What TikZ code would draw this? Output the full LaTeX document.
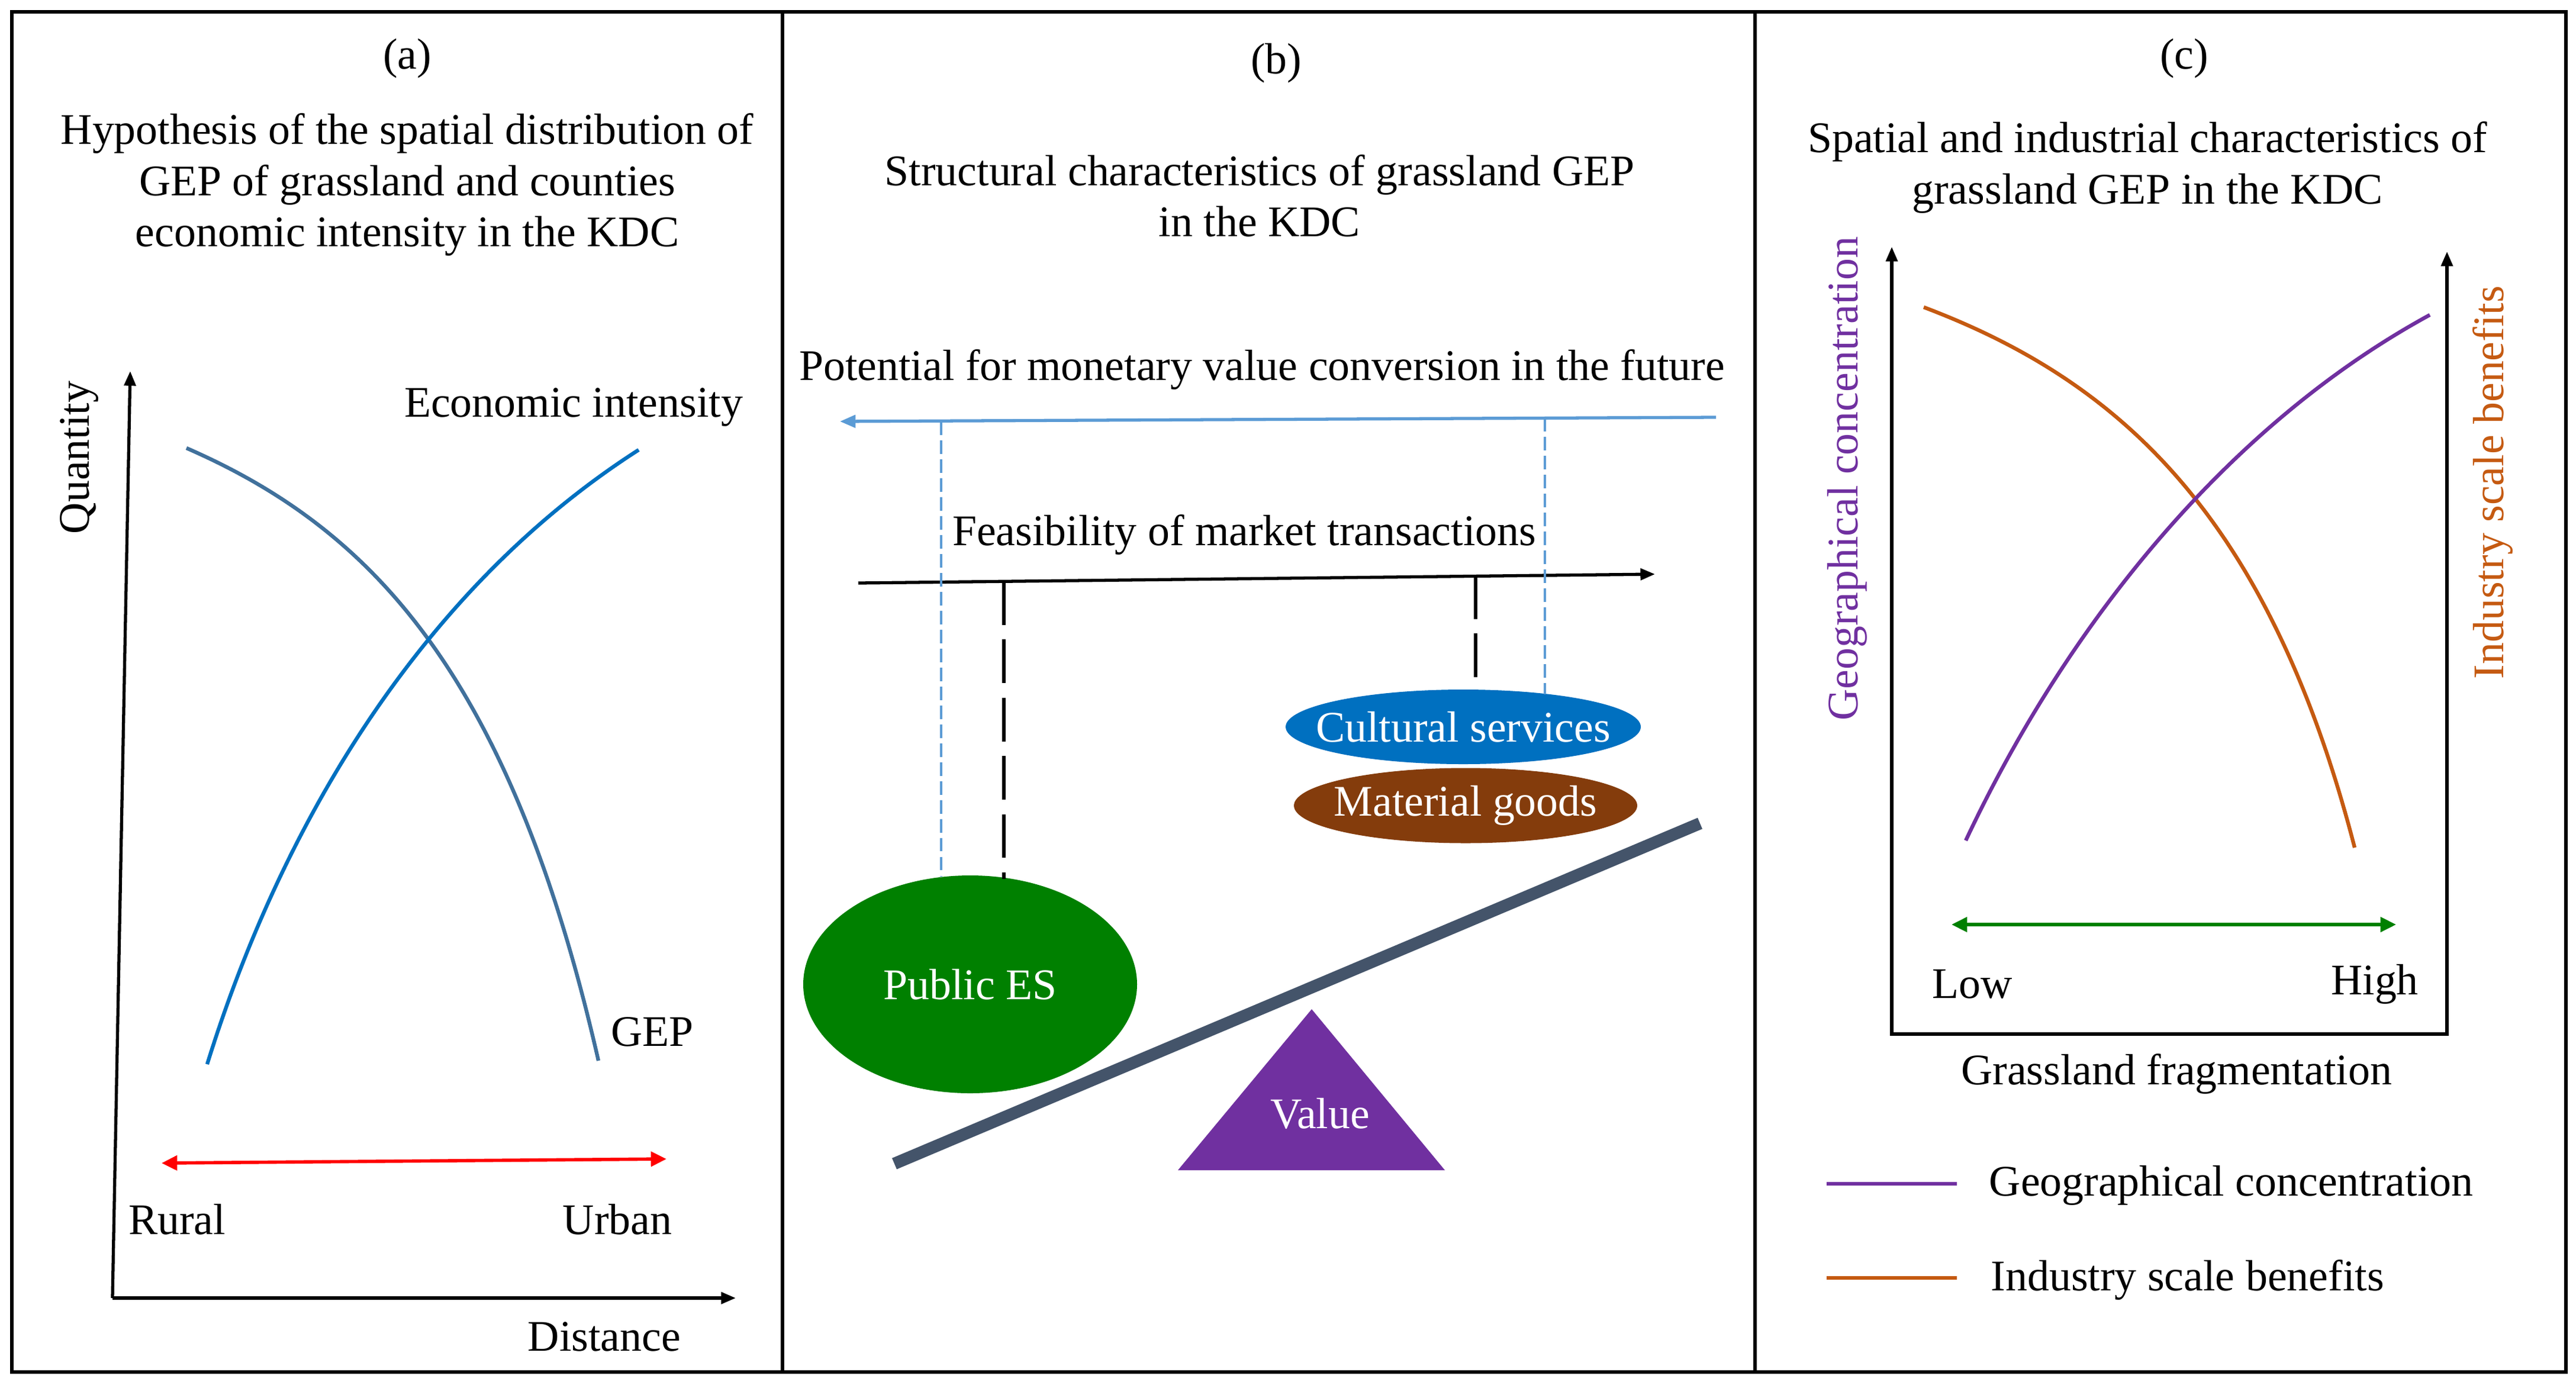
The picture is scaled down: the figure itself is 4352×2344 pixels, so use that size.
\documentclass[tikz,border=0pt]{standalone}
\usepackage{fontspec}
\setmainfont{Liberation Serif}
\usetikzlibrary{arrows.meta,shapes.geometric}
\definecolor{gepblue}{HTML}{41719C}
\definecolor{econblue}{HTML}{0070C0}
\definecolor{lightblue}{HTML}{5B9BD5}
\definecolor{culblue}{HTML}{0070C0}
\definecolor{matbrown}{HTML}{843C0C}
\definecolor{esgreen}{HTML}{008000}
\definecolor{valpurple}{HTML}{7030A0}
\definecolor{plankgray}{HTML}{44546A}
\definecolor{geopurple}{HTML}{7030A0}
\definecolor{indorange}{HTML}{C55A11}
\definecolor{arrgreen}{HTML}{008000}
\begin{document}
\begin{tikzpicture}[x=0.1mm,y=-0.1mm,
  every node/.style={font=\fontsize{21}{24.5}\selectfont, inner sep=0pt},
  frame/.style={line width=1.6pt, black},
  axisarrow/.style={line width=1.5pt, black, -{Triangle[length=7pt,width=5.5pt]}},
  curve/.style={line width=1.8pt},
  dblarrow/.style={line width=1.6pt, {Triangle[length=7.5pt,width=7pt]}-{Triangle[length=7.5pt,width=7pt]}},
  blkdash/.style={line width=1.5pt, black, dash pattern=on 21pt off 7pt},
  bludash/.style={line width=0.9pt, lightblue, dash pattern=on 6.5pt off 2.6pt},
  blob/.style={ellipse, inner sep=0pt, text=white},
  plank/.style={line width=5.8pt, plankgray}
]
\useasboundingbox (0,0) rectangle (4352,2344);
\fill[white] (0,0) rectangle (4352,2344);

% frame
\draw[frame] (20,20) rectangle (4335,2318);
\draw[frame] (1322,20) -- (1322,2318);
\draw[frame] (2965,20) -- (2965,2318);

% ---------------- panel (a)
\node (ta) at (688,99) {(a)};
\node[align=center] (titlea) at (688,312) {Hypothesis of the spatial distribution of\\GEP of grassland and counties\\economic intensity in the KDC};
\coordinate (aO) at (190,2193);
\coordinate (aY) at (220,627);
\coordinate (aX) at (1243,2193);
\draw[axisarrow] (aO) -- (aY);
\draw[axisarrow] (aO) -- (aX);
\node[rotate=90] (qty) at (134,773) {Quantity};
\node (dist) at (1021,2258) {Distance};
\coordinate (g0) at (315,757);
\coordinate (g1) at (1011,1792);
\coordinate (e0) at (350,1798);
\coordinate (e1) at (1079,760);
\draw[curve, gepblue] (g0) .. controls (620,890) and (860,1130) .. (g1);
\draw[curve, econblue] (e0) .. controls (480,1380) and (720,990) .. (e1);
\node (econ) at (969,688) {Economic intensity};
\node (gep) at (1102,1743) {GEP};
\coordinate (rl) at (273,1965);
\coordinate (rr) at (1126,1958);
\draw[dblarrow, red] (rl) -- (rr);
\node (rural) at (299,2060) {Rural};
\node (urban) at (1043,2060) {Urban};

% ---------------- panel (b)
\node (tb) at (2156,107) {(b)};
\node[align=center] (titleb) at (2128,331) {Structural characteristics of grassland GEP\\in the KDC};
\node (pot) at (2132,624) {Potential for monetary value conversion in the future};
\coordinate (bpR) at (2899,705);
\coordinate (bpL) at (1419,712);
\draw[line width=1.5pt, lightblue, -{Triangle[length=7.5pt,width=6pt]}] (bpR) -- (bpL);
\node (feas) at (2102,903) {Feasibility of market transactions};
\coordinate (fL) at (1450,985);
\coordinate (fR) at (2796,970);
\draw[axisarrow] (fL) -- (fR);

\draw[plank] (1511,1966) -- (2872,1391);
\node[blob, fill=esgreen, minimum width=5.64cm, minimum height=3.68cm] (pub) at (1639,1663) {\makebox[0pt]{Public ES}};
\node[blob, fill=culblue, minimum width=6.0cm, minimum height=1.26cm] (cul) at (2472,1228) {\makebox[0pt]{Cultural services}};
\node[blob, fill=matbrown, minimum width=5.8cm, minimum height=1.27cm] (mat) at (2476,1361) {\makebox[0pt]{Material goods}};
\fill[valpurple] (2216,1705) -- (2441,1977) -- (1990,1977) -- cycle;
\node[text=white] (val) at (2230,1881) {Value};

\coordinate (bd1a) at (1590,712);  \coordinate (bd1b) at (1590,1481);
\coordinate (bd2a) at (2610,706);  \coordinate (bd2b) at (2610,1173);
\coordinate (kd1a) at (1696,982);  \coordinate (kd1b) at (1696,1485);
\coordinate (kd2a) at (2493,972);  \coordinate (kd2b) at (2493,1166);
\draw[bludash] (bd1a) -- (bd1b);
\draw[bludash] (bd2a) -- (bd2b);
\draw[blkdash] (kd1a) -- (kd1b);
\draw[blkdash] (kd2a) -- (kd2b);

% ---------------- panel (c)
\node (tc) at (3690,99) {(c)};
\node[align=center] (titlec) at (3628,283) {Spatial and industrial characteristics of\\grassland GEP in the KDC};
\coordinate (cTL) at (3196,417);
\coordinate (cBL) at (3196,1747);
\coordinate (cBR) at (4134,1747);
\coordinate (cTR) at (4134,425);
\draw[line width=1.5pt, {Triangle[length=7pt,width=5.5pt]}-{Triangle[length=7pt,width=5.5pt]}] (cTL) -- (cBL) -- (cBR) -- (cTR);
\node[rotate=90, text=geopurple] (geo) at (3121,809) {Geographical concentration};
\node[rotate=90, text=indorange] (ind) at (4211,815) {Industry scale benefits};
\coordinate (p0) at (3321,1420);
\coordinate (p1) at (4105,532);
\coordinate (o0) at (3250,519);
\coordinate (o1) at (3978,1432);
\draw[curve, indorange] (o0) .. controls (3570,640) and (3830,860) .. (o1);
\draw[curve, geopurple] (p0) .. controls (3490,1060) and (3760,720) .. (p1);
\coordinate (gl) at (3297,1562);
\coordinate (gr) at (4048,1562);
\draw[dblarrow, arrgreen] (gl) -- (gr);
\node (low) at (3332,1663) {Low};
\node (high) at (4012,1663) {High};
\node (frag) at (3677,1814) {Grassland fragmentation};
\coordinate (lg1a) at (3086,2000); \coordinate (lg1b) at (3306,2000);
\coordinate (lg2a) at (3086,2159); \coordinate (lg2b) at (3306,2159);
\draw[curve, geopurple] (lg1a) -- (lg1b);
\draw[curve, indorange] (lg2a) -- (lg2b);
\node[anchor=west] (lgt1) at (3360,2003) {Geographical concentration};
\node[anchor=west] (lgt2) at (3363,2162) {Industry scale benefits};
\end{tikzpicture}
\end{document}
